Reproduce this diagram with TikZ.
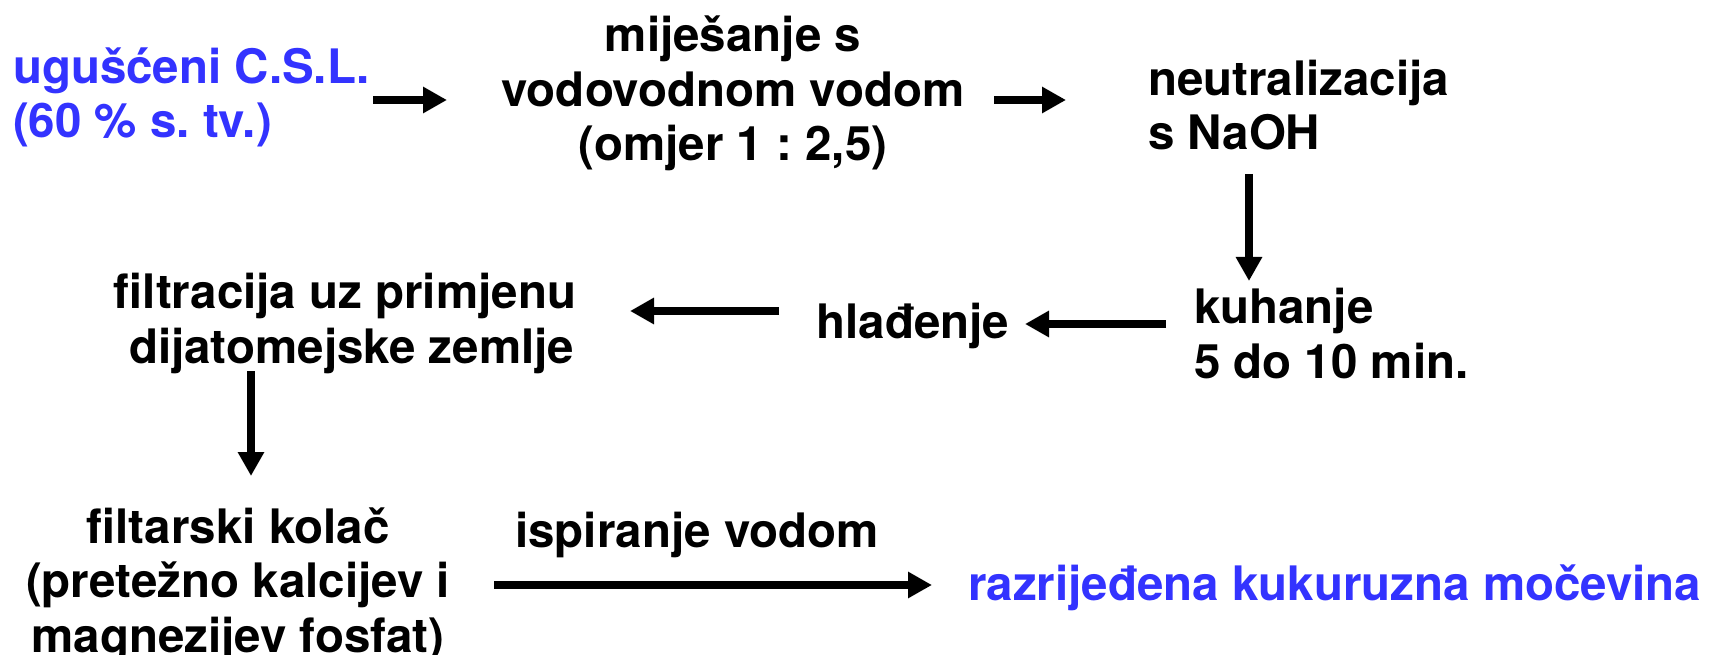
\documentclass[tikz,border=0pt]{standalone}
\usepackage{fontspec}
\setmainfont{TeX Gyre Heros}
\usetikzlibrary{arrows.meta}
\definecolor{tblue}{RGB}{51,51,255}
\frenchspacing
\begin{document}
\begin{tikzpicture}[x=1pt,y=-1pt,
  txt/.style={font=\fontsize{47.5}{54.5}\selectfont\bfseries, inner sep=0pt, outer sep=0pt},
  arr/.style={line width=8pt, -{Triangle[length=24pt,width=25pt]}}]
\useasboundingbox[fill=white] (0,0) rectangle (1709,655);
\node[txt, text=tblue, align=left, anchor=base west] (n1) at (13,138) {ugušćeni C.S.L.\\(60 \% s. tv.)};
\node[txt, align=center, anchor=base] (n2) at (733,161) {miješanje s\\vodovodnom vodom\\(omjer 1 : 2,5)};
\node[txt, align=left, anchor=base west] (n3) at (1148,150) {neutralizacija\\s NaOH};
\node[txt, align=left, anchor=base west] (n4) at (1194,378) {kuhanje\\5 do 10 min.};
\node[txt, anchor=base] (n5) at (913,338) {hlađenje};
\node[txt, align=center, anchor=base] (n6) at (345,363) {filtracija uz primjenu\\\hspace*{.278em}dijatomejske zemlje};
\node[txt, align=center, anchor=base] (n7) at (238,652) {filtarski kolač\\(pretežno kalcijev i\\magnezijev fosfat)};
\node[txt, anchor=base] (n8) at (697,547) {ispiranje vodom};
\node[txt, text=tblue, anchor=base west] (n9) at (968,600) {razrijeđena kukuruzna močevina};
\coordinate (a1s) at (373,100); \coordinate (a1e) at (447,100);
\coordinate (a2s) at (994,100); \coordinate (a2e) at (1066,100);
\coordinate (a3s) at (1249,174); \coordinate (a3e) at (1249,281);
\coordinate (a4s) at (1166,324); \coordinate (a4e) at (1025,324);
\coordinate (a5s) at (779,311); \coordinate (a5e) at (630,311);
\coordinate (a6s) at (251,371); \coordinate (a6e) at (251,476);
\coordinate (a7s) at (494,585); \coordinate (a7e) at (932,585);
\draw[arr] (a1s) -- (a1e);
\draw[arr] (a2s) -- (a2e);
\draw[arr] (a3s) -- (a3e);
\draw[arr] (a4s) -- (a4e);
\draw[arr] (a5s) -- (a5e);
\draw[arr] (a6s) -- (a6e);
\draw[arr] (a7s) -- (a7e);
\end{tikzpicture}
\end{document}
